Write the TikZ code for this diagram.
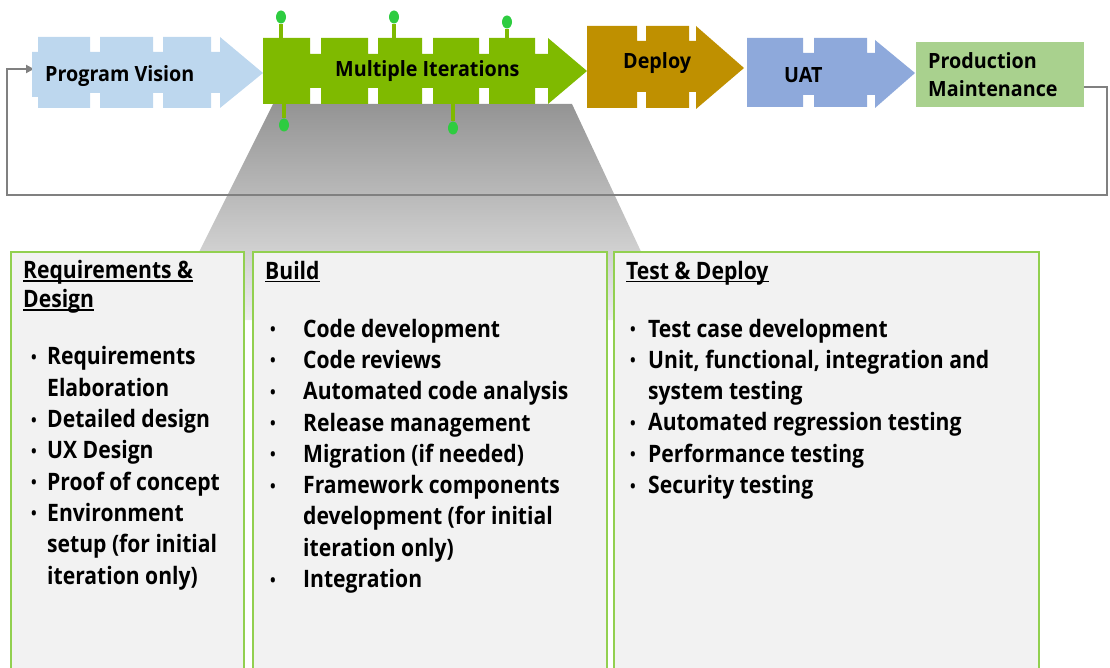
\documentclass[tikz,border=0pt]{standalone}
\usepackage{fontspec}
\setmainfont{Open Sans}
\newfontfamily\labelfont{Open Sans}[FakeStretch=0.94]
\newfontfamily\panelfont{Open Sans}[FakeStretch=0.88]
\usetikzlibrary{arrows.meta}

\definecolor{pvblue}{HTML}{BDD7EE}
\definecolor{itgreen}{HTML}{7FBA00}
\definecolor{pingreen}{HTML}{2ECC40}
\definecolor{deploygold}{HTML}{BF9000}
\definecolor{uatblue}{HTML}{8EA9DB}
\definecolor{prodgreen}{HTML}{A9D18E}
\definecolor{panelfill}{HTML}{F2F2F2}
\definecolor{panelline}{HTML}{92D050}
\definecolor{loopgray}{HTML}{808080}
\definecolor{zoomtop}{HTML}{949494}
\definecolor{zoombot}{HTML}{EDEDED}

% small bullet in a box of given width, and a matching indent
\newcommand\bul[1]{\makebox[#1][l]{\raisebox{1.5pt}{\fontsize{17}{17}\selectfont\textbullet}}}
\newcommand\ind[1]{\hspace*{#1}}
% heading underline at a fixed depth below the baseline
\newcommand\ulin[1]{\setbox0\hbox{#1}\rlap{\rule[-3.5pt]{\wd0}{1.3pt}}\box0}

\begin{document}
\begin{tikzpicture}[x=1pt,y=-1pt,
  lbl/.style={font=\labelfont\fontsize{21}{28}\selectfont\bfseries, inner sep=0pt, align=left, anchor=base west},
  body/.style={font=\panelfont\fontsize{24}{31.3}\selectfont\bfseries, inner sep=0pt, align=left, anchor=base west},
  panel/.style={draw=panelline, line width=1.6pt, fill=panelfill, anchor=north west, minimum height=460pt, inner sep=0pt},
  stem/.style={draw=itgreen, line width=3.5pt},
  pin/.style={fill=pingreen},
  loopline/.style={draw=loopgray, line width=2.2pt, -{Triangle[length=8pt,width=8pt]}}]
\useasboundingbox (0,0) rectangle (1110,668);
\clip (0,0) rectangle (1110,668);

% zoom funnel under the iteration arrow, fading out behind the panels
\shade[top color=zoomtop, bottom color=zoombot]
  (273,104) -- (572,104) -- (673,320) -- (165,320) -- cycle;

% feedback loop from maintenance back to the vision
\node[fill=prodgreen, minimum width=168pt, minimum height=65pt, inner sep=0pt] (prod) at (1000,74.5) {};
\coordinate (pvin) at (34,69);
\coordinate (loopR) at (1107,195);
\coordinate (loopL) at (7,195);
\draw[loopline] ([yshift=-12.5pt]prod.east) -| (loopR) -- (loopL) |- (pvin);

% Program Vision
\fill[pvblue] (38,37) -- (90,37) -- (90,52) -- (100,52) -- (100,37) -- (153,37) -- (153,52)
  -- (163,52) -- (163,37) -- (211,37) -- (211,52) -- (220,52) -- (220,37) -- (263,73)
  -- (220,108) -- (220,93) -- (211,93) -- (211,108) -- (163,108) -- (163,93) -- (153,93)
  -- (153,108) -- (100,108) -- (100,93) -- (90,93) -- (90,108) -- (38,108) -- (38,97)
  -- (32,97) -- (32,52) -- (38,52) -- cycle;
\node[lbl] (pv) at (45,82) {Program Vision};

% Multiple Iterations
\fill[itgreen] (263,38) -- (310,38) -- (310,54) -- (321,54) -- (321,38) -- (368,38) -- (368,54)
  -- (378,54) -- (378,38) -- (422,38) -- (422,54) -- (433,54) -- (433,38) -- (479,38)
  -- (479,54) -- (489,54) -- (489,38) -- (535,38) -- (535,54) -- (548,54) -- (548,38)
  -- (587,71) -- (548,104) -- (548,88) -- (535,88) -- (535,104) -- (489,104) -- (489,88)
  -- (479,88) -- (479,104) -- (433,104) -- (433,88) -- (422,88) -- (422,104) -- (378,104)
  -- (378,88) -- (368,88) -- (368,104) -- (321,104) -- (321,88) -- (310,88) -- (310,104)
  -- (263,104) -- cycle;
\node[lbl] (mi) at (335,77) {Multiple Iterations};

% iteration pins
\draw[stem] (281,24) -- (281,38);
\fill[pin] (281,17) ellipse [x radius=5pt, y radius=6.5pt];
\draw[stem] (394,24) -- (394,38);
\fill[pin] (394,17) ellipse [x radius=5pt, y radius=6.5pt];
\draw[stem] (507,29) -- (507,38);
\fill[pin] (507,22) ellipse [x radius=5pt, y radius=6.5pt];
\draw[stem] (284,104) -- (284,118);
\fill[pin] (284,125) ellipse [x radius=5pt, y radius=6.5pt];
\draw[stem] (453,104) -- (453,121);
\fill[pin] (453,128) ellipse [x radius=5pt, y radius=6.5pt];

% Deploy
\fill[deploygold] (587,26) -- (637,26) -- (637,41) -- (646,41) -- (646,26) -- (689,26)
  -- (689,41) -- (696,41) -- (696,26) -- (744,68) -- (696,109) -- (696,92) -- (689,92)
  -- (689,108) -- (646,108) -- (646,92) -- (637,92) -- (637,108) -- (587,108) -- cycle;
\node[lbl] (dep) at (623,69) {Deploy};

% UAT
\fill[uatblue] (747,38) -- (803,38) -- (803,53) -- (814,53) -- (814,38) -- (867,38)
  -- (867,53) -- (875,53) -- (875,40) -- (915,73) -- (875,108) -- (875,95) -- (867,95)
  -- (867,107) -- (814,107) -- (814,95) -- (803,95) -- (803,107) -- (747,107) -- cycle;
\node[lbl] (uat) at (784,83) {UAT};

% Production Maintenance (anchored on the baseline of its last line)
\node[lbl] (prodtxt) at (928,97) {Production\\Maintenance};

% detail panels
\node[panel, minimum width=233pt] (req) at (10,251) {};
\node[panel, minimum width=354pt] (bld) at (252,251) {};
\node[panel, minimum width=425pt] (tst) at (613,251) {};

% text blocks are placed by the baseline of their last line
\node[body] (reqhead) at (23,307) {\ulin{Requirements \&}\\[-2.3pt]\ulin{Design}};
\node[body] (reqlist) at (31,584) {\bul{16pt}Requirements\\ \ind{16pt}Elaboration\\
  \bul{16pt}Detailed design\\ \bul{16pt}UX Design\\ \bul{16pt}Proof of concept\\
  \bul{16pt}Environment\\ \ind{16pt}setup (for initial\\ \ind{16pt}iteration only)};

\node[body] (bldhead) at (265,279) {\ulin{Build}};
\node[body] (bldlist) at (270,587.5) {\bul{33pt}Code development\\ \bul{33pt}Code reviews\\
  \bul{33pt}Automated code analysis\\ \bul{33pt}Release management\\
  \bul{33pt}Migration (if needed)\\ \bul{33pt}Framework components\\
  \ind{33pt}development (for initial\\ \ind{33pt}iteration only)\\ \bul{33pt}Integration};

\node[body] (tsthead) at (626,279) {\ulin{Test \& Deploy}};
\node[body] (tstlist) at (630,493.5) {\bul{18pt}Test case development\\
  \bul{18pt}Unit, functional, integration and\\ \ind{18pt}system testing\\
  \bul{18pt}Automated regression testing\\ \bul{18pt}Performance testing\\
  \bul{18pt}Security testing};
\end{tikzpicture}
\end{document}
